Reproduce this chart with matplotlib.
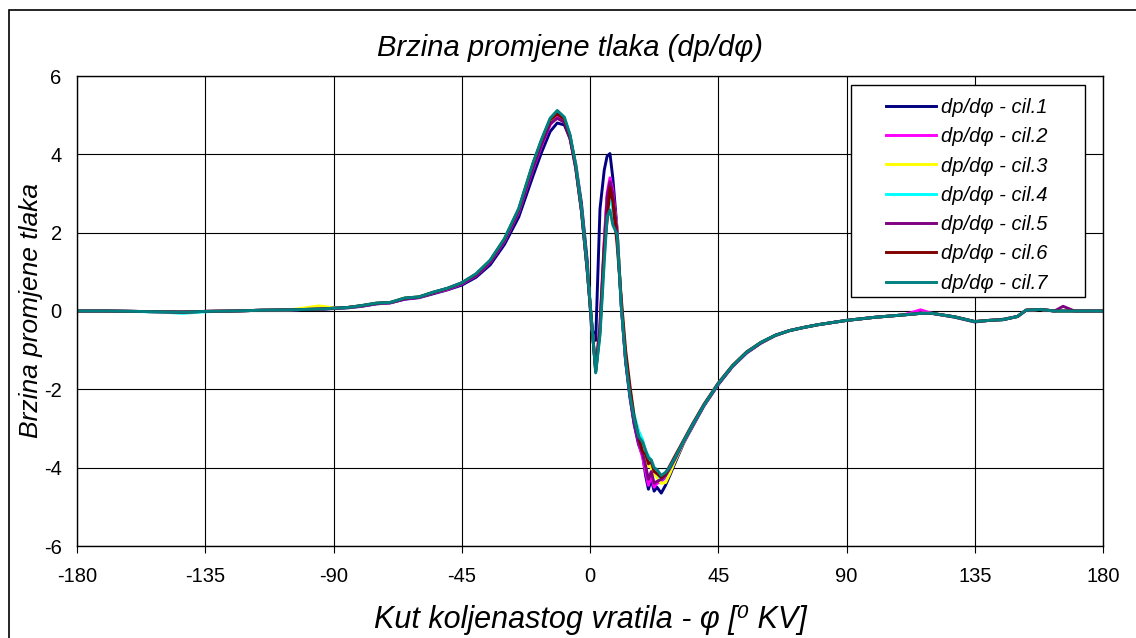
import matplotlib
matplotlib.use("Agg")
import matplotlib.pyplot as plt
from matplotlib.patches import Rectangle

# crank angle grid (deg)
phi = [-180, -170, -160, -150, -143, -135, -125, -115, -105, -95, -90, -85, -80, -75, -70,
       -65, -60, -55, -50, -45, -40, -35, -30, -25, -20, -17, -14, -11.5, -9, -7, -5, -3, -1,
       0.5, 2, 3.5, 5, 6, 7, 8, 9.5, 11, 12.5, 14, 15.5, 17, 18.5, 19.5, 20.5, 21.5, 22.5,
       23.5, 25, 26.5, 28, 30, 33, 36, 40, 45, 50, 55, 60, 65, 70, 75, 80, 90, 100, 110, 116,
       120, 128, 135, 140, 145, 150, 153, 158, 163, 166, 170, 180]

cil1 = [0.00, 0.00, -0.01, -0.02, -0.02, -0.01, 0.00, 0.02, 0.03, 0.04, 0.06, 0.08, 0.12, 0.18, 0.21,
        0.30, 0.34, 0.44, 0.54, 0.66, 0.86, 1.18, 1.70, 2.40, 3.45, 4.05, 4.58, 4.80, 4.75, 4.40, 3.75, 2.75, 1.30,
        -0.40, -0.75, 2.60, 3.60, 3.95, 4.02, 3.40, 2.10, 0.10, -1.30, -2.20, -2.90, -3.40, -3.70, -4.20, -4.55, -4.30, -4.60,
        -4.50, -4.65, -4.45, -4.20, -3.85, -3.35, -2.95, -2.42, -1.88, -1.42, -1.07, -0.82, -0.63, -0.50, -0.42, -0.35, -0.24, -0.16, -0.10, -0.06,
        -0.06, -0.16, -0.28, -0.24, -0.21, -0.14, 0.02, 0.04, 0.00, 0.00, 0.00, 0.00]

cil2 = [0.00, 0.00, -0.01, -0.02, -0.03, -0.01, 0.00, 0.02, 0.03, 0.05, 0.07, 0.09, 0.13, 0.19, 0.21,
        0.31, 0.35, 0.46, 0.55, 0.69, 0.90, 1.24, 1.78, 2.52, 3.62, 4.22, 4.75, 4.97, 4.85, 4.42, 3.65, 2.55, 1.05,
        -0.25, -1.50, -0.30, 1.80, 3.00, 3.40, 3.10, 2.05, 0.15, -1.25, -2.15, -2.85, -3.35, -3.75, -4.10, -4.45, -4.20, -4.50,
        -4.40, -4.35, -4.25, -4.05, -3.78, -3.32, -2.92, -2.41, -1.86, -1.41, -1.06, -0.81, -0.62, -0.50, -0.42, -0.35, -0.24, -0.16, -0.10, 0.03,
        -0.06, -0.15, -0.27, -0.24, -0.22, -0.14, 0.02, 0.04, 0.00, 0.00, 0.00, 0.00]

cil3 = [0.00, 0.00, -0.01, -0.02, -0.03, -0.01, 0.00, 0.02, 0.03, 0.13, 0.08, 0.09, 0.14, 0.20, 0.22,
        0.33, 0.36, 0.47, 0.57, 0.71, 0.93, 1.28, 1.82, 2.58, 3.72, 4.32, 4.85, 5.05, 4.90, 4.46, 3.70, 2.58, 1.08,
        -0.22, -1.52, -0.45, 1.50, 2.80, 3.20, 2.90, 2.10, 0.20, -1.10, -2.00, -2.70, -3.15, -3.55, -3.80, -3.95, -4.00, -4.15,
        -4.25, -4.40, -4.38, -4.15, -3.80, -3.33, -2.92, -2.40, -1.85, -1.40, -1.05, -0.80, -0.62, -0.50, -0.42, -0.35, -0.24, -0.16, -0.10, -0.06,
        -0.06, -0.15, -0.27, -0.24, -0.22, -0.14, 0.02, 0.04, 0.00, 0.00, 0.00, 0.00]

cil4 = [0.00, 0.00, -0.01, -0.03, -0.06, -0.02, 0.00, 0.02, 0.03, 0.05, 0.07, 0.09, 0.14, 0.20, 0.22,
        0.33, 0.36, 0.48, 0.58, 0.72, 0.94, 1.29, 1.84, 2.60, 3.76, 4.36, 4.90, 5.08, 4.93, 4.48, 3.70, 2.58, 1.08,
        -0.22, -1.55, -0.55, 1.40, 2.60, 2.90, 2.60, 2.00, 0.15, -1.15, -2.05, -2.65, -3.05, -3.30, -3.60, -3.70, -3.85, -4.05,
        -4.15, -4.30, -4.20, -4.02, -3.74, -3.31, -2.91, -2.40, -1.85, -1.40, -1.05, -0.80, -0.62, -0.50, -0.42, -0.35, -0.24, -0.16, -0.10, -0.06,
        -0.06, -0.15, -0.27, -0.24, -0.22, -0.14, 0.02, 0.04, 0.00, 0.00, 0.00, 0.00]

cil5 = [0.00, 0.00, -0.01, -0.02, -0.03, -0.01, 0.00, 0.02, 0.03, 0.05, 0.07, 0.09, 0.13, 0.19, 0.21,
        0.31, 0.35, 0.46, 0.56, 0.70, 0.91, 1.25, 1.80, 2.55, 3.66, 4.26, 4.78, 4.92, 4.82, 4.40, 3.64, 2.55, 1.05,
        -0.25, -1.50, -0.40, 1.70, 2.90, 3.30, 3.00, 2.05, 0.12, -1.25, -2.15, -2.85, -3.30, -3.65, -3.95, -4.30, -4.10, -4.40,
        -4.35, -4.30, -4.20, -4.02, -3.75, -3.32, -2.92, -2.41, -1.86, -1.41, -1.06, -0.81, -0.62, -0.50, -0.42, -0.35, -0.24, -0.16, -0.10, -0.06,
        -0.06, -0.15, -0.27, -0.24, -0.22, -0.14, 0.02, 0.04, 0.00, 0.12, 0.00, 0.00]

cil6 = [0.00, 0.00, -0.01, -0.02, -0.03, -0.01, 0.00, 0.02, 0.03, 0.05, 0.07, 0.09, 0.14, 0.20, 0.22,
        0.33, 0.36, 0.48, 0.58, 0.72, 0.94, 1.29, 1.84, 2.60, 3.76, 4.36, 4.88, 5.03, 4.90, 4.46, 3.68, 2.57, 1.08,
        -0.22, -1.55, -0.50, 1.60, 2.30, 3.15, 2.80, 1.70, 0.30, -1.00, -1.90, -2.70, -3.20, -3.60, -3.65, -3.90, -3.85, -4.10,
        -4.15, -4.25, -4.15, -3.95, -3.68, -3.28, -2.88, -2.38, -1.84, -1.39, -1.04, -0.80, -0.62, -0.50, -0.42, -0.35, -0.24, -0.16, -0.10, -0.06,
        -0.06, -0.15, -0.27, -0.24, -0.22, -0.14, 0.02, 0.04, 0.00, 0.00, 0.00, 0.00]

cil7 = [0.00, 0.00, -0.01, -0.02, -0.03, -0.01, 0.00, 0.02, 0.03, 0.05, 0.07, 0.09, 0.14, 0.20, 0.22,
        0.33, 0.36, 0.48, 0.58, 0.72, 0.95, 1.30, 1.85, 2.62, 3.78, 4.38, 4.92, 5.12, 4.95, 4.50, 3.72, 2.60, 1.10,
        -0.20, -1.58, -0.62, 1.25, 2.40, 2.58, 2.20, 1.95, 0.10, -1.25, -2.15, -2.75, -3.20, -3.35, -3.55, -3.75, -3.80, -4.00,
        -4.05, -4.20, -4.12, -3.98, -3.72, -3.30, -2.90, -2.40, -1.85, -1.40, -1.05, -0.80, -0.62, -0.50, -0.42, -0.35, -0.24, -0.16, -0.10, -0.06,
        -0.06, -0.15, -0.27, -0.24, -0.22, -0.14, 0.02, 0.04, 0.00, 0.00, 0.00, 0.00]

series = [cil1, cil2, cil3, cil4, cil5, cil6, cil7]
labels = ["dp/dφ - cil.1", "dp/dφ - cil.2", "dp/dφ - cil.3", "dp/dφ - cil.4",
          "dp/dφ - cil.5", "dp/dφ - cil.6", "dp/dφ - cil.7"]
colors = ["#000080", "#FF00FF", "#FFFF00", "#00FFFF", "#800080", "#800000", "#008080"]

xticks = [-180, -135, -90, -45, 0, 45, 90, 135, 180]
yticks = [-6, -4, -2, 0, 2, 4, 6]

plt.rcParams['font.family'] = ['Liberation Sans', 'DejaVu Sans']

W, H = 1136, 638
fig = plt.figure(figsize=(W / 100, H / 100), dpi=100)
ax = fig.add_axes([77 / W, 1 - 546 / H, (1103 - 77) / W, (546 - 76) / H])

for y, lab, c in zip(series, labels, colors):
    ax.plot(phi, y, color=c, lw=2.1, label=lab, solid_joinstyle='round')

ax.set_xlim(-180, 180)
ax.set_ylim(-6, 6)
ax.set_xticks(xticks)
ax.set_yticks(yticks)
ax.set_xticklabels([str(v) for v in xticks])
ax.set_yticklabels([str(v) for v in yticks])
ax.grid(True, color='black', lw=0.8)
ax.set_axisbelow(True)
for s in ax.spines.values():
    s.set_color('black')
    s.set_linewidth(1.0)
ax.tick_params(axis='both', labelsize=14.5, width=0.8, direction='out', colors='black')
ax.tick_params(axis='x', length=5, pad=10)
ax.tick_params(axis='y', length=0, pad=11)

fig.text(570 / W, 1 - 48 / H, "Brzina promjene tlaka (dp/dφ)", ha='center', va='center',
         fontsize=21, style='italic')
fig.text(590 / W, 1 - 620 / H, "Kut koljenastog vratila - φ [⁰ KV]", ha='center', va='center',
         fontsize=22, style='italic')
fig.text(31 / W, 1 - 311 / H, "Brzina promjene tlaka", ha='center', va='center',
         fontsize=19, style='italic', rotation=90)

# legend box drawn explicitly
box = Rectangle((851 / W, 1 - 297 / H), (1085 - 851) / W, (297 - 85) / H,
                transform=fig.transFigure, facecolor='white', edgecolor='black', lw=1.0,
                zorder=4.5, clip_on=False)
ax.add_artist(box)
leg = ax.legend(loc='upper left', bbox_to_anchor=(886 / W, 1 - 98 / H),
                bbox_transform=fig.transFigure,
                prop={'style': 'italic', 'size': 14.5}, frameon=False,
                handlelength=2.5, labelspacing=0.51, borderpad=0, handletextpad=0.25,
                borderaxespad=0)
leg.set_zorder(5)

fig.patches.append(Rectangle((9 / W, -0.1), 1.2, 1 - 10 / H + 0.1, transform=fig.transFigure,
                             fill=False, edgecolor='black', lw=1.2))

fig.savefig("out.png", dpi=100)
